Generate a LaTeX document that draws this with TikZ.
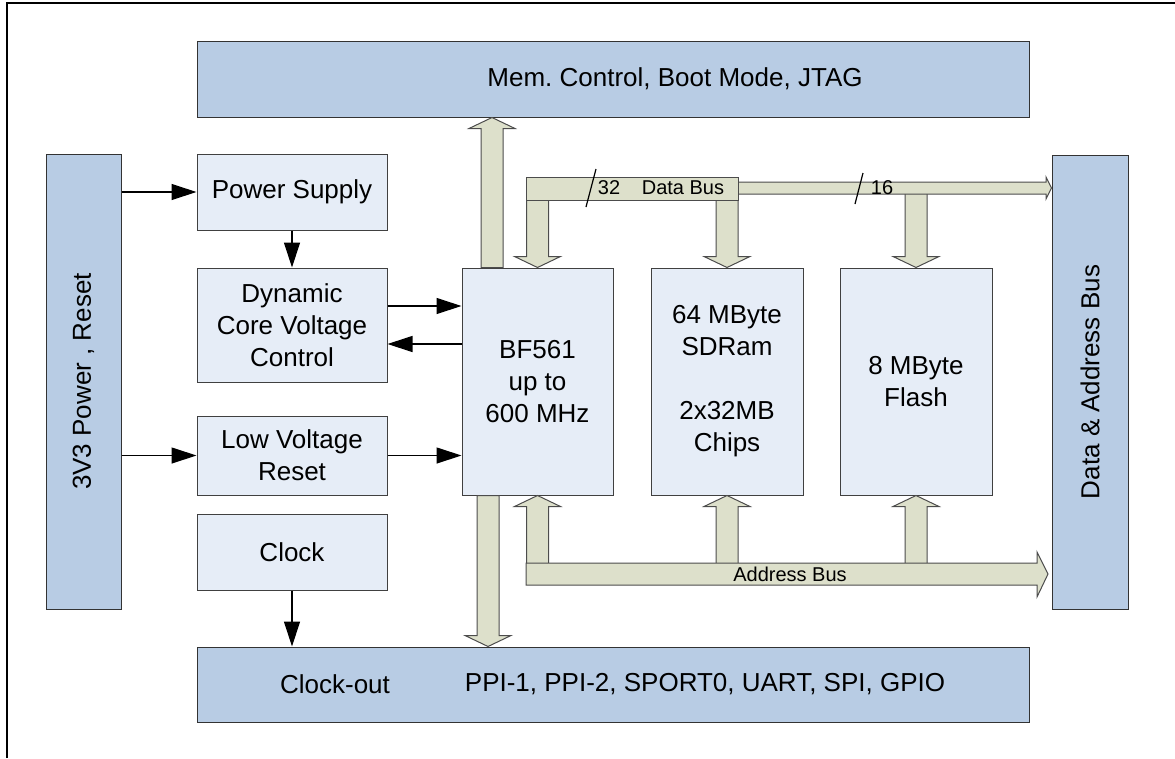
\documentclass[tikz,border=0pt]{standalone}
\usepackage{fontspec}
\setmainfont{Liberation Sans}
\usetikzlibrary{arrows.meta,calc}

\definecolor{boxdark}{HTML}{B8CCE4}
\definecolor{boxlight}{HTML}{E6EDF7}
\definecolor{busfill}{HTML}{DDE0CB}

\tikzset{
  every node/.style={font=\fontsize{26}{32}\selectfont},
  dbox/.style={draw=black!80, line width=1pt, fill=boxdark},
  lbox/.style={draw=black!75, line width=1pt, fill=boxlight, align=center, minimum width=190pt},
  bus/.style={draw=black!70, line width=1pt, fill=busfill},
  sig/.style={-{Triangle[length=25pt,width=16pt]}, line width=1.2pt},
  small/.style={font=\fontsize{20}{24}\selectfont}
}

\begin{document}
\begin{tikzpicture}[x=1pt, y=-1pt]
\useasboundingbox (0,0) rectangle (1175,758);
\draw[line width=2pt] (7,758) -- (7,3) -- (1175,3);

% outer blocks
\node[dbox, minimum width=832pt, minimum height=76pt, label={[xshift=62pt]center:{Mem.\ Control, Boot Mode, JTAG}}] (mem) at (613,79) {};
\node[dbox, minimum width=75pt, minimum height=455pt, label={[rotate=90]center:{3V3 Power , Reset}}] (pwr) at (83.5,381.5) {};
\node[dbox, minimum width=76pt, minimum height=454pt, label={[rotate=90]center:{Data \& Address Bus}}] (dab) at (1090,382) {};
\node[dbox, minimum width=832pt, minimum height=75pt, label={[xshift=-278pt]center:Clock-out}, label={[xshift=92pt]center:{PPI-1, PPI-2, SPORT0, UART, SPI, GPIO}}] (io) at (613,684.5) {};

% inner blocks
\node[lbox, minimum height=76pt] (ps) at (292,192) {Power Supply};
\node[lbox, minimum height=114pt] (dcv) at (292,325) {Dynamic\\Core Voltage\\Control};
\node[lbox, minimum height=79pt] (lvr) at (292,455.5) {Low Voltage\\Reset};
\node[lbox, minimum height=76pt] (clk) at (292,552) {Clock};
\node[lbox, minimum width=151pt, minimum height=227pt] (cpu) at (537.5,381.5) {BF561\\up to\\600 MHz};
\node[lbox, minimum width=152pt, minimum height=227pt] (ram) at (727,381.5) {64 MByte\\SDRam\\[32pt]2x32MB\\Chips};
\node[lbox, minimum width=152pt, minimum height=227pt] (flash) at (916,381.5) {8 MByte\\Flash};

\coordinate (cM) at (492,0);
\coordinate (cIO) at (488,0);
\coordinate (dbus) at (0,188);
\coordinate (abus) at (0,574);

% bus arrows: from / tip / head
\foreach \a/\b/\h in {cM|-cpu.north/cM|-mem.south/11, cIO|-cpu.south/cIO|-io.north/-11,
    cpu|-dbus/cpu.north/-11, ram|-dbus/ram.north/-11, flash|-dbus/flash.north/-11,
    cpu|-abus/cpu.south/11, ram|-abus/ram.south/11, flash|-abus/flash.south/11}
  \filldraw[bus] (\b) -- ++(23,\h) -- ++(-12,0) -- ($(\a)+(11,0)$) -- ++(-22,0) -- ($(\b)+(-11,\h)$) -- ++(-12,0) -- cycle;

\filldraw[bus] (738,182) -- (1046,182) -- (1046,177) -- (dab.west |- dbus) -- (1046,199) -- (1046,194) -- (738,194) -- cycle;
\filldraw[bus] (526,177) rectangle (738,200);
\filldraw[bus] (526,563) -- (1037,563) -- (1037,552) -- (1048,574) -- (1037,597) -- (1037,585) -- (526,585) -- cycle;

\draw[line width=1.2pt] (586,207) -- (596,169);
\draw[line width=1.2pt] (855,204) -- (863,173);
\node[small] (w32) at (609,188) {32};
\node[small] (dlbl) at (683,188) {Data Bus};
\node[small] (w16) at (882,188) {16};
\node[small] (albl) at (790,574) {Address Bus};

% signals
\draw[sig] (pwr.east |- ps.west) -- (ps.west);
\draw[sig] (ps.south) -- (dcv.north);
\draw[sig] ([yshift=19pt]dcv.east) -- ([yshift=19pt]dcv.east -| cpu.west);
\draw[sig] ([yshift=-19pt]dcv.east -| cpu.west) -- ([yshift=-19pt]dcv.east);
\draw[sig] (pwr.east |- lvr.west) -- (lvr.west);
\draw[sig] (lvr.east) -- (lvr.east -| cpu.west);
\draw[sig] (clk.south) -- (clk.south |- io.north);

\end{tikzpicture}
\end{document}
